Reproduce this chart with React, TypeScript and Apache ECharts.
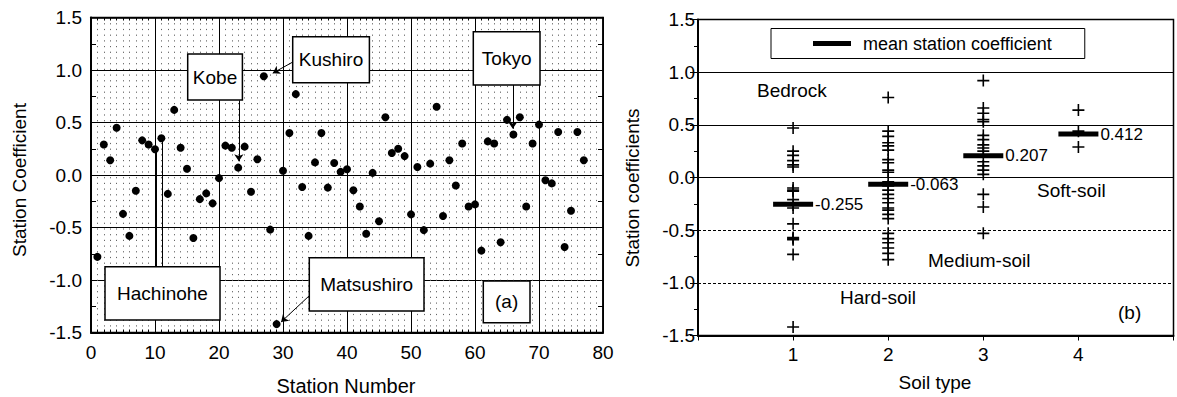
import React, { useEffect, useRef } from "react";
import * as echarts from "echarts";

// ---------- data ----------
// Panel (a): station coefficient for station numbers 1..77
const stationCoefficients = [
  -0.78, 0.29, 0.14, 0.45, -0.37, -0.58, -0.15, 0.33, 0.29, 0.245,
  0.35, -0.18, 0.62, 0.26, 0.06, -0.6, -0.23, -0.175, -0.27, -0.03,
  0.28, 0.26, 0.07, 0.27, -0.16, 0.15, 0.94, -0.52, -1.42, 0.04,
  0.4, 0.77, -0.115, -0.58, 0.12, 0.4, -0.12, 0.115, 0.03, 0.055,
  -0.146, -0.3, -0.56, 0.02, -0.44, 0.55, 0.21, 0.25, 0.18, -0.375,
  0.076, -0.525, 0.108, 0.65, -0.39, 0.14, -0.1, 0.3, -0.3, -0.28,
  -0.72, 0.32, 0.3, -0.64, 0.525, 0.385, 0.55, -0.3, 0.3, 0.48,
  -0.05, -0.08, 0.41, -0.685, -0.34, 0.41, 0.14,
];

// Panel (b): station coefficients grouped by soil type
const soilTypes = [1, 2, 3, 4];
const soilType1 = [0.47, 0.25, 0.21, 0.16, 0.12, 0.1, -0.1, -0.12, -0.13, -0.21, -0.26, -0.29, -0.44, -0.57, -0.58, -0.59, -0.73, -1.42];
const soilType2 = [0.76, 0.44, 0.39, 0.33, 0.3, 0.26, 0.17, 0.14, 0.07, 0.05, -0.04, -0.08, -0.12, -0.16, -0.2, -0.24, -0.29, -0.31, -0.35, -0.39, -0.53, -0.58, -0.62, -0.67, -0.72, -0.78];
const soilType3 = [0.92, 0.66, 0.61, 0.55, 0.53, 0.4, 0.36, 0.31, 0.28, 0.25, 0.15, 0.11, 0.07, 0.03, -0.16, -0.28, -0.53];
const soilType4 = [0.64, 0.44, 0.29];
const meanCoefficients = [-0.255, -0.063, 0.207, 0.412];

const FONT = "'Liberation Sans', Arial, Helvetica, sans-serif";
const PLUS = "path://M5.2,0H6.8V5.2H12V6.8H6.8V12H5.2V6.8H0V5.2H5.2Z";

function box(x: number, y: number, w: number, h: number, text: string) {
  return [
    {
      type: "rect",
      z: 100,
      shape: { x, y, width: w, height: h },
      style: { fill: "#fff", stroke: "#000", lineWidth: 1.5 },
    },
    {
      type: "text",
      z: 101,
      style: {
        text,
        x: x + w / 2,
        y: y + h / 2,
        align: "center",
        verticalAlign: "middle",
        textAlign: "center",
        textVerticalAlign: "middle",
        fontSize: 19,
        fontFamily: FONT,
        fill: "#000",
      },
    },
  ];
}

function label(text: string, x: number, y: number, size: number, rotate = 0, align = "left") {
  return {
    type: "text",
    z: 101,
    x,
    y,
    rotation: rotate,
    style: {
      text,
      x: 0,
      y: 0,
      align,
      verticalAlign: "middle",
      textAlign: align,
      textVerticalAlign: "middle",
      fontSize: size,
      fontFamily: FONT,
      fill: "#000",
    },
  };
}

const black = { color: "#000" };

function buildOption() {
  const soilData = [soilType1, soilType2, soilType3, soilType4].flatMap((arr, i) =>
    arr.map((v) => [soilTypes[i], v])
  );
  const meanData = meanCoefficients.map((v, i) => [soilTypes[i], v]);

  return {
    animation: false,
    textStyle: { fontFamily: FONT, color: "#000" },
    grid: [
      { left: 91, top: 17.5, width: 512, height: 315, show: true, borderColor: "#000", borderWidth: 1.5, backgroundColor: "transparent" },
      { left: 698, top: 19.5, width: 475.5, height: 316, show: true, borderColor: "#000", borderWidth: 1.5, backgroundColor: "transparent" },
    ],
    legend: {
      show: true,
      left: 771,
      top: 28.5,
      padding: [5, 33, 5, 42],
      itemWidth: 38,
      itemHeight: 5,
      borderColor: "#000",
      borderWidth: 1,
      selectedMode: false,
      textStyle: { fontSize: 18, fontFamily: FONT, color: "#000", padding: [0, 0, 0, 7], lineHeight: 20 },
      data: [{ name: "mean station coefficient", icon: "rect", itemStyle: { color: "#000", opacity: 1 } }],
    },
    xAxis: [
      {
        gridIndex: 0,
        type: "value",
        min: 0,
        max: 80,
        interval: 10,
        axisLine: { show: true, onZero: false, lineStyle: { color: "#000", width: 2 } },
        axisTick: { show: true, inside: true, length: 6, lineStyle: black },
        minorTick: { show: true, splitNumber: 10, length: 3, lineStyle: black },
        axisLabel: { color: "#000", fontSize: 19, margin: 10, fontFamily: FONT },
        splitLine: { show: true, lineStyle: { color: "#000", width: 1 } },
        minorSplitLine: { show: true, lineStyle: { color: "#666", width: 1, type: [1.2, 4.5] } },
      },
      {
        gridIndex: 0,
        type: "value",
        position: "top",
        min: 0,
        max: 80,
        interval: 10,
        axisLine: { show: true, onZero: false, lineStyle: { color: "#000", width: 1.5 } },
        axisTick: { show: true, inside: true, length: 6, lineStyle: black },
        minorTick: { show: true, splitNumber: 10, length: 3, lineStyle: black },
        axisLabel: { show: false },
        splitLine: { show: false },
      },
      {
        gridIndex: 1,
        type: "value",
        min: 0,
        max: 5,
        interval: 1,
        axisLine: { show: true, onZero: false, lineStyle: { color: "#000", width: 2 } },
        axisTick: { show: true, inside: false, length: 5, lineStyle: black },
        axisLabel: {
          color: "#000",
          fontSize: 19,
          margin: 9,
          fontFamily: FONT,
          formatter: (v: number) => (v >= 1 && v <= 4 ? String(v) : ""),
        },
        splitLine: { show: false },
      },
    ],
    yAxis: [
      {
        gridIndex: 0,
        type: "value",
        min: -1.5,
        max: 1.5,
        interval: 0.5,
        axisLine: { show: true, onZero: false, lineStyle: { color: "#000", width: 2 } },
        axisTick: { show: true, inside: true, length: 6, lineStyle: black },
        minorTick: { show: true, splitNumber: 2, length: 5, lineStyle: black },
        axisLabel: { color: "#000", fontSize: 19, margin: 9, fontFamily: FONT, formatter: (v: number) => v.toFixed(1) },
        splitLine: { show: true, lineStyle: { color: "#000", width: 1 } },
      },
      {
        gridIndex: 0,
        type: "value",
        position: "right",
        min: -1.5,
        max: 1.5,
        interval: 0.5,
        axisLine: { show: true, onZero: false, lineStyle: { color: "#000", width: 1.5 } },
        axisTick: { show: true, inside: true, length: 6, lineStyle: black },
        minorTick: { show: true, splitNumber: 2, length: 5, lineStyle: black },
        axisLabel: { show: false },
        splitLine: { show: false },
      },
      {
        gridIndex: 1,
        type: "value",
        min: -1.5,
        max: 1.5,
        interval: 0.5,
        axisLine: { show: true, onZero: false, lineStyle: { color: "#000", width: 2 } },
        axisTick: { show: true, inside: false, length: 8, lineStyle: black },
        minorTick: { show: true, splitNumber: 2, length: 4, lineStyle: black },
        axisLabel: { color: "#000", fontSize: 19, margin: 3, fontFamily: FONT, formatter: (v: number) => v.toFixed(1) },
        splitLine: { show: false },
      },
    ],
    series: [
      {
        name: "station coefficient",
        type: "scatter",
        xAxisIndex: 0,
        yAxisIndex: 0,
        symbol: "circle",
        symbolSize: 8,
        itemStyle: { color: "#000", opacity: 1 },
        data: stationCoefficients.map((v, i) => [i + 1, v]),
        markLine: {
          silent: true,
          symbol: ["none", "arrow"],
          symbolSize: 7,
          label: { show: false },
          lineStyle: { color: "#000", width: 1, type: "solid", opacity: 1 },
          data: [
            [{ coord: [23.1, 0.71] }, { coord: [23.1, 0.13] }],
            [{ coord: [31.5, 1.075] }, { coord: [28.4, 0.97] }],
            [{ coord: [65.9, 0.86] }, { coord: [65.9, 0.44] }],
            [{ coord: [34.1, -1.15] }, { coord: [29.7, -1.4] }],
            [{ coord: [10.15, -0.87] }, { coord: [10.15, 0.24], symbol: "none" }],
            [{ coord: [11.15, -0.87] }, { coord: [11.15, 0.34], symbol: "none" }],
          ],
        },
      },
      {
        name: "stations by soil type",
        type: "scatter",
        xAxisIndex: 2,
        yAxisIndex: 2,
        symbol: PLUS,
        symbolSize: 12,
        itemStyle: { color: "#000", opacity: 1 },
        data: soilData,
        markLine: {
          silent: true,
          symbol: "none",
          label: { show: false },
          lineStyle: { color: "#000", width: 1, type: "solid", opacity: 1 },
          data: [
            { yAxis: 1.0 },
            { yAxis: 0.5 },
            { yAxis: 0.0 },
            { yAxis: -0.5, lineStyle: { type: [3, 2], color: "#000", width: 1 } },
            { yAxis: -1.0, lineStyle: { type: [3, 2], color: "#000", width: 1 } },
          ],
        },
      },
      {
        name: "mean station coefficient",
        type: "scatter",
        xAxisIndex: 2,
        yAxisIndex: 2,
        symbol: "rect",
        symbolSize: [40, 5],
        z: 5,
        itemStyle: { color: "#000", opacity: 1 },
        data: meanData,
        label: {
          show: true,
          position: "right",
          distance: 2,
          fontSize: 17,
          fontFamily: FONT,
          color: "#000",
          formatter: (p: any) => p.value[1].toFixed(3),
        },
      },
    ],
    graphic: [
      ...box(187.7, 54, 54.7, 46, "Kobe"),
      ...box(292.7, 36.7, 76.7, 46, "Kushiro"),
      ...box(473.3, 31.7, 66.7, 53.3, "Tokyo"),
      ...box(105, 266.7, 115, 53.3, "Hachinohe"),
      ...box(309.3, 257.7, 114.7, 53.3, "Matsushiro"),
      ...box(483.3, 281, 46.7, 41.7, "(a)"),
      label("Station Coefficient", 19, 180, 19, Math.PI / 2, "center"),
      label("Station Number", 346, 386, 20, 0, "center"),
      label("Station coefficients", 632, 188, 19, Math.PI / 2, "center"),
      label("Soil type", 935, 382, 19, 0, "center"),
      label("Bedrock", 757, 90, 19),
      label("Soft-soil", 1037, 190, 19),
      label("Medium-soil", 928, 260, 19),
      label("Hard-soil", 840, 297, 19),
      label("(b)", 1118, 312, 19),
    ],
  };
}

export default function App() {
  const ref = useRef<HTMLDivElement>(null);
  useEffect(() => {
    if (!ref.current) return;
    const chart = echarts.init(ref.current, null, { renderer: "svg" });
    chart.setOption(buildOption() as any);
    return () => chart.dispose();
  }, []);
  return (
    <div
      ref={ref}
      style={{ position: "fixed", left: 0, top: 0, width: 1177, height: 397, background: "#fff" }}
    />
  );
}
